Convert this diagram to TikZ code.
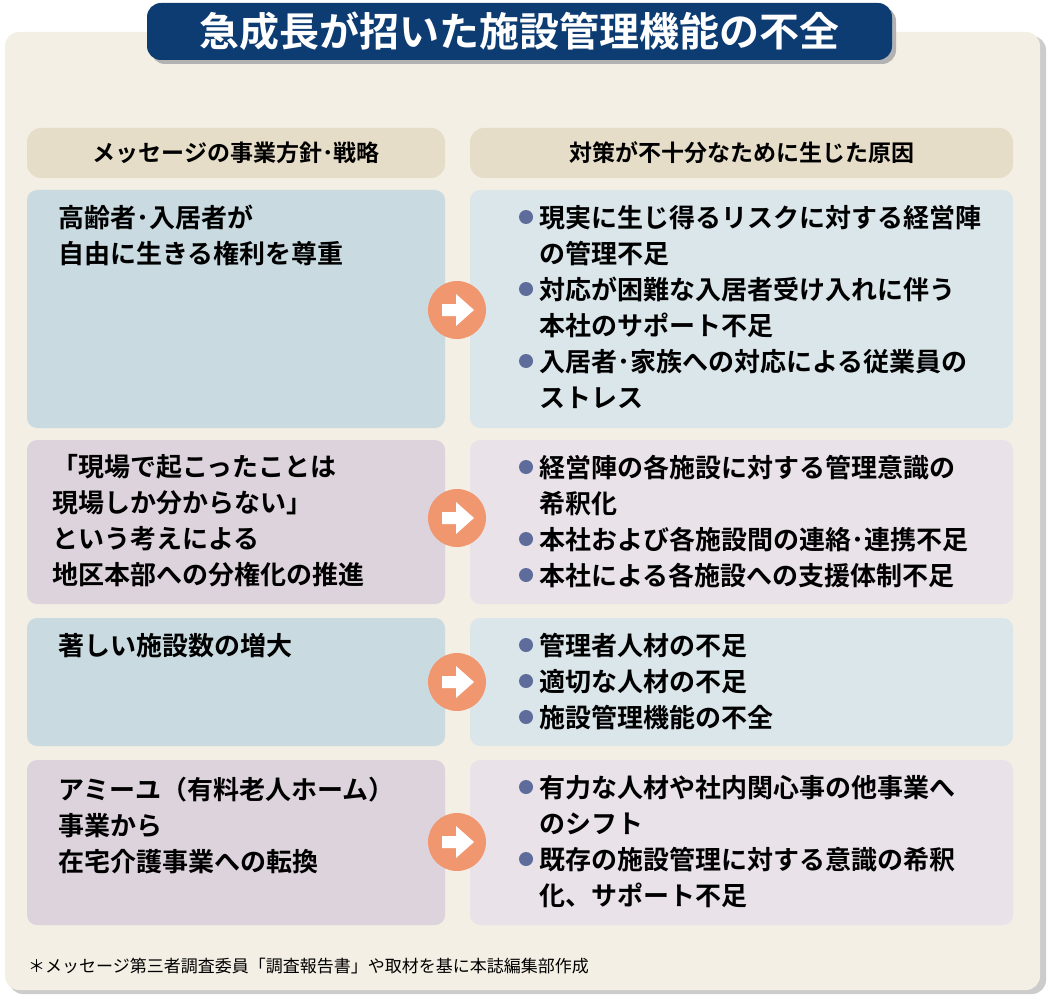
\documentclass[tikz,border=0pt]{standalone}
\usepackage{fontspec}
\setmainfont{Noto Sans CJK JP}[BoldFont=* Bold]
\definecolor{bgc}{HTML}{F3EFE4}
\definecolor{navy}{HTML}{0D3C73}
\definecolor{hdr}{HTML}{E6DDC8}
\definecolor{blueL}{HTML}{C9DBE1}
\definecolor{blueR}{HTML}{DBE6EA}
\definecolor{mauveL}{HTML}{DDD3DC}
\definecolor{mauveR}{HTML}{E9E2E8}
\definecolor{arr}{HTML}{F1976F}
\definecolor{bul}{HTML}{5E6C9B}
\tikzset{
 box/.style={rounded corners=10pt, draw=none},
 txt/.style={anchor=north west, align=left, inner sep=0pt, font=\bfseries\fontsize{26}{36}\selectfont},
 bullet/.style={circle, fill=bul, minimum size=14pt, inner sep=0pt},
 arrowc/.style={circle, fill=arr, minimum size=58pt, inner sep=0pt},
}
\begin{document}
\begin{tikzpicture}[x=1pt,y=-1pt]
\useasboundingbox (0,0) rectangle (1056,1000);
\fill[gray!40, rounded corners=14pt] (9,36) rectangle (1046,994);
\fill[bgc, rounded corners=14pt] (5,32) rectangle (1040,990);
\fill[gray!60, rounded corners=14pt] (151,7) rectangle (896,64);
\node[fill=navy, rounded corners=14pt, minimum width=745pt, minimum height=57pt, inner sep=0pt, text=white, font=\bfseries\fontsize{40}{40}\selectfont] (title) at (519.5,31.5) {急成長が招いた施設管理機能の不全};
% headers
\node[fill=hdr, rounded corners=14pt, minimum width=418pt, minimum height=50pt, inner sep=0pt, font=\bfseries\fontsize{23}{23}\selectfont] (h1) at (236,153) {メッセージの事業方針･戦略};
\node[fill=hdr, rounded corners=14pt, minimum width=543pt, minimum height=50pt, inner sep=0pt, font=\bfseries\fontsize{23}{23}\selectfont] (h2) at (741.5,153) {対策が不十分なために生じた原因};
% boxes
\fill[box, blueL] (27,190) rectangle (445,428);
\fill[box, blueR] (470,190) rectangle (1013,428);
\fill[box, mauveL] (27,440) rectangle (445,604);
\fill[box, mauveR] (470,440) rectangle (1013,604);
\fill[box, blueL] (27,618) rectangle (445,746);
\fill[box, blueR] (470,618) rectangle (1013,746);
\fill[box, mauveL] (27,760) rectangle (445,925);
\fill[box, mauveR] (470,760) rectangle (1013,925);
% arrows
\foreach \n/\y in {a1/310,a2/518,a3/682,a4/842}{
 \node[arrowc] (\n) at (457,\y) {};
 \fill[white] (\n.center) ++(-15,-6) -- ++(14,0) -- ++(0,-10) -- ++(18,16) -- ++(-18,16) -- ++(0,-10) -- ++(-14,0) -- cycle;
}
% left texts
\node[txt] (l1) at (58,205) {高齢者･入居者が\\自由に生きる権利を尊重};
\node[txt] (l2) at (52,454) {「現場で起こったことは\\現場しか分からない」\\という考えによる\\地区本部への分権化の推進};
\node[txt] (l3) at (58,633) {著しい施設数の増大};
\node[txt] (l4) at (58,777) {アミーユ（有料老人ホーム）\\事業から\\在宅介護事業への転換};
% right bullets
\foreach \n/\y/\t in {
 r1/227/{現実に生じ得るリスクに対する経営陣\\の管理不足},
 r2/299/{対応が困難な入居者受け入れに伴う\\本社のサポート不足},
 r3/371/{入居者･家族への対応による従業員の\\ストレス},
 r4/477/{経営陣の各施設に対する管理意識の\\希釈化},
 r5/549/{本社および各施設間の連絡･連携不足},
 r6/585/{本社による各施設への支援体制不足},
 r7/655/{管理者人材の不足},
 r8/691/{適切な人材の不足},
 r9/727/{施設管理機能の不全},
 r10/797/{有力な人材や社内関心事の他事業へ\\のシフト},
 r11/869/{既存の施設管理に対する意識の希釈\\化、サポート不足}}{
 \node[bullet] (b\n) at (526,\y-10) {};
 \node[txt] (\n) at (539,\y-22) {\t};
}
\node[anchor=base west, inner sep=0pt, font=\fontsize{17}{17}\selectfont] (foot) at (28,972) {＊メッセージ第三者調査委員「調査報告書」や取材を基に本誌編集部作成};
\end{tikzpicture}
\end{document}
